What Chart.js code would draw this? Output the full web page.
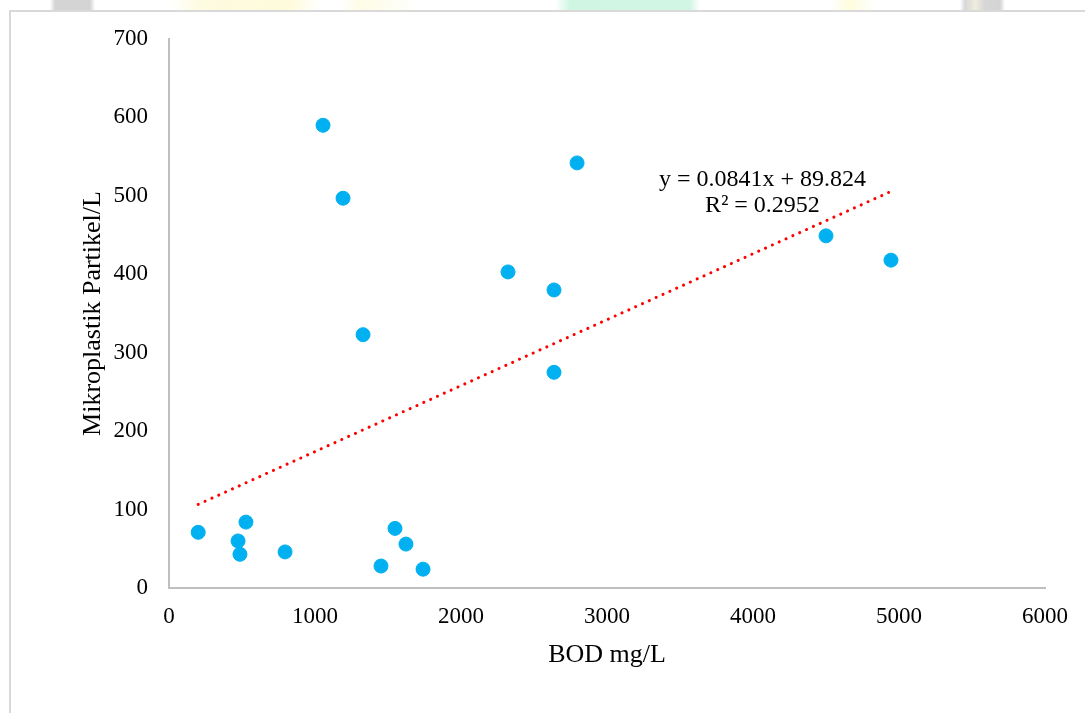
<html>
<head>
<script src="https://cdn.jsdelivr.net/npm/chart.js"></script>
<style type="text/css">
  body{
    margin:0;
    background:#fff;
    overflow:hidden;
  }
  #strip{
    position:absolute; left:0; top:0; width:1085px; height:10px;
    background: linear-gradient(90deg, #fff 0px, #fff 50px, #d4d4d4 55px, #d4d4d4 90px, #fff 95px,
      #fff 170px, #fdfbe0 200px, #fefbdc 290px, #fff 320px, #fff 340px, #fdfce6 360px, #fff 420px,
      #fff 555px, #d0f6e3 570px, #d2f6e4 690px, #fff 700px, #fff 830px, #fdfcdc 850px, #fff 875px,
      #fff 960px, #d6d6d6 965px, #efedde 975px, #d6d6d6 985px, #d4d4d4 1000px, #fff 1005px);
  }
  #frame{
    position:absolute; left:9px; top:10px; width:1100px; height:720px;
    border-left:2px solid #d9d9d9;
    border-top:2px solid #d9d9d9;
    background:#fff;
  }
  #wrap{
    position:absolute; left:0; top:0; width:1085px; height:713px;
  }
</style>
</head>
<body>
<div id="strip"></div>
<div id="frame"></div>
<div id="wrap"><canvas id="chart" width="1085" height="713"></canvas></div>

<script>
  // BOD (mg/L) vs mikroplastik (partikel/L)
  const bodValues = [200, 527, 473, 486, 795, 1055, 1192, 1329, 1452, 1548, 1623, 1740, 2322, 2637, 2637, 2795, 4500, 4945];
  const mpValues  = [71,  84,  60,  43,  46,  590,  497,  323,  28,   76,   56,   24,   403,  380,  275,  542,  449,  418];

  // linear trendline as reported
  const slope = 0.0841;
  const intercept = 89.824;
  const equationText = 'y = 0.0841x + 89.824';
  const r2Text = 'R\u00b2 = 0.2952';

  const xTicks = [0, 1000, 2000, 3000, 4000, 5000, 6000];
  const yTicks = [0, 100, 200, 300, 400, 500, 600, 700];

  const points = bodValues.map((x, i) => ({x: x, y: mpValues[i]}));
  const xMin = Math.min(...bodValues), xMax = Math.max(...bodValues);
  const trend = [
    {x: xMin, y: slope * xMin + intercept},
    {x: xMax, y: slope * xMax + intercept}
  ];

  const serif = '"Liberation Serif", "Times New Roman", serif';

  const equationLabel = {
    id: 'equationLabel',
    afterDatasetsDraw(chart){
      const ctx = chart.ctx;
      const xs = chart.scales.x, ys = chart.scales.y;
      const px = xs.getPixelForValue(4065);
      const py = ys.getPixelForValue(521);
      ctx.save();
      ctx.font = '24px ' + serif;
      ctx.fillStyle = '#000';
      ctx.textAlign = 'center';
      ctx.textBaseline = 'middle';
      ctx.fillText(equationText, px, py);
      ctx.fillText(r2Text, px, py + 26);
      ctx.restore();
    }
  };

  new Chart(document.getElementById('chart').getContext('2d'), {
    type: 'scatter',
    data: {
      datasets: [{
        label: 'data',
        data: points,
        backgroundColor: '#00b0f0',
        borderColor: '#00b0f0',
        pointRadius: 7,
        pointHoverRadius: 7,
        order: 1
      }, {
        type: 'line',
        label: 'trend',
        data: trend,
        borderColor: '#ff0000',
        borderWidth: 3,
        borderDash: [0.1, 7.4],
        borderCapStyle: 'round',
        pointRadius: 0,
        fill: false,
        order: 2
      }]
    },
    options: {
      responsive: false,
      animation: false,
      layout: {
        padding: {left: 75, top: 39, right: 40, bottom: 30}
      },
      plugins: {
        legend: {display: false},
        tooltip: {enabled: false}
      },
      scales: {
        x: {
          type: 'linear',
          min: 0,
          max: 6000,
          afterBuildTicks: (s) => { s.ticks = xTicks.map(v => ({value: v})); },
          afterFit: (s) => { s.height = 95; },
          grid: {display: false, drawTicks: false},
          border: {display: true, color: '#bfbfbf', width: 2},
          ticks: {
            color: '#000',
            font: {family: serif, size: 23},
            padding: 15,
            maxRotation: 0,
            callback: (v) => String(v)
          },
          title: {
            display: true,
            text: 'BOD mg/L',
            color: '#000',
            font: {family: serif, size: 26},
            padding: {top: 4, bottom: 12}
          }
        },
        y: {
          type: 'linear',
          min: 0,
          max: 700,
          afterBuildTicks: (s) => { s.ticks = yTicks.map(v => ({value: v})); },
          afterFit: (s) => { s.width = 94; },
          grid: {display: false, drawTicks: false},
          border: {display: true, color: '#bfbfbf', width: 2},
          ticks: {
            color: '#000',
            font: {family: serif, size: 23},
            padding: 21,
            callback: (v) => String(v)
          },
          title: {
            display: true,
            text: 'Mikroplastik Partikel/L',
            color: '#000',
            font: {family: serif, size: 26},
            padding: {top: 3, bottom: 4}
          }
        }
      }
    },
    plugins: [equationLabel]
  });
</script>
</body>
</html>
